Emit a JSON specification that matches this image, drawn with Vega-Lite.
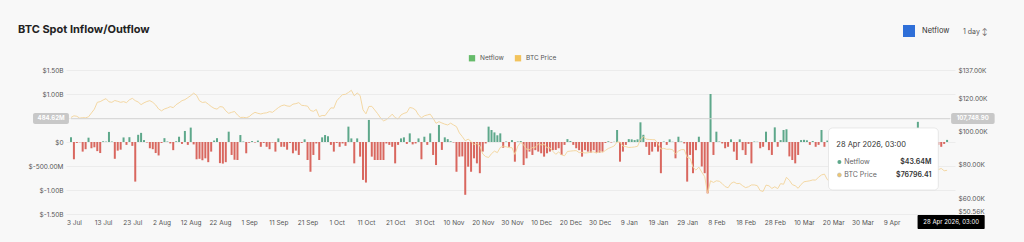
{
 "$schema": "https://vega.github.io/schema/vega-lite/v6.json",
 "width": 889,
 "height": 144,
 "autosize": {"type": "none"},
 "padding": {"left": 66, "top": 70, "right": 69, "bottom": 28},
 "background": "#f8f8f8",
 "config": {
  "view": {"stroke": null},
  "font": "Inter",
  "axis": {"domain": false, "ticks": false, "labelFont": "Inter", "labelFontSize": 6.5, "labelColor": "#555555", "gridColor": "#e8e8e8", "gridWidth": 0.8},
  "legend": {"labelFont": "Inter", "titleFont": "Inter"}
 },
 "title": {"text": "BTC Spot Inflow/Outflow", "anchor": "start", "frame": "group", "dx": -48, "offset": -11, "fontSize": 11, "fontWeight": "bold", "font": "Inter", "color": "#222222"},
 "datasets": {
  "flow": [
   {"date":"2025-07-02","netflow":97,"price":108.5},
   {"date":"2025-07-03","netflow":-360,"price":109.5},
   {"date":"2025-07-04","netflow":-20,"price":109.2},
   {"date":"2025-07-05","netflow":-5,"price":108.1},
   {"date":"2025-07-06","netflow":-200,"price":108.4},
   {"date":"2025-07-07","netflow":-150,"price":108.3},
   {"date":"2025-07-08","netflow":90,"price":108.9},
   {"date":"2025-07-09","netflow":-130,"price":111.2},
   {"date":"2025-07-10","netflow":-110,"price":113.5},
   {"date":"2025-07-11","netflow":-190,"price":117.6},
   {"date":"2025-07-12","netflow":-230,"price":118.0},
   {"date":"2025-07-13","netflow":15,"price":119.0},
   {"date":"2025-07-14","netflow":8,"price":119.8},
   {"date":"2025-07-15","netflow":210,"price":117.9},
   {"date":"2025-07-16","netflow":10,"price":117.6},
   {"date":"2025-07-17","netflow":-350,"price":118.7},
   {"date":"2025-07-18","netflow":-180,"price":118.2},
   {"date":"2025-07-19","netflow":-160,"price":117.6},
   {"date":"2025-07-20","netflow":95,"price":118.0},
   {"date":"2025-07-21","netflow":-60,"price":117.4},
   {"date":"2025-07-22","netflow":100,"price":119.1},
   {"date":"2025-07-23","netflow":-80,"price":120.0},
   {"date":"2025-07-24","netflow":-825,"price":118.6},
   {"date":"2025-07-25","netflow":150,"price":117.8},
   {"date":"2025-07-26","netflow":190,"price":116.2},
   {"date":"2025-07-27","netflow":40,"price":117.3},
   {"date":"2025-07-28","netflow":-10,"price":118.1},
   {"date":"2025-07-29","netflow":-130,"price":118.6},
   {"date":"2025-07-30","netflow":-150,"price":117.6},
   {"date":"2025-07-31","netflow":-230,"price":116.0},
   {"date":"2025-08-01","netflow":-280,"price":113.6},
   {"date":"2025-08-02","netflow":-20,"price":112.5},
   {"date":"2025-08-03","netflow":80,"price":113.6},
   {"date":"2025-08-04","netflow":10,"price":114.2},
   {"date":"2025-08-05","netflow":-30,"price":115.0},
   {"date":"2025-08-06","netflow":-170,"price":114.4},
   {"date":"2025-08-07","netflow":15,"price":116.2},
   {"date":"2025-08-08","netflow":110,"price":117.3},
   {"date":"2025-08-09","netflow":-40,"price":118.6},
   {"date":"2025-08-10","netflow":230,"price":119.2},
   {"date":"2025-08-11","netflow":-60,"price":120.4},
   {"date":"2025-08-12","netflow":300,"price":121.6},
   {"date":"2025-08-13","netflow":-50,"price":123.1},
   {"date":"2025-08-14","netflow":-360,"price":121.8},
   {"date":"2025-08-15","netflow":-350,"price":118.5},
   {"date":"2025-08-16","netflow":-380,"price":117.5},
   {"date":"2025-08-17","netflow":-340,"price":117.8},
   {"date":"2025-08-18","netflow":-420,"price":116.5},
   {"date":"2025-08-19","netflow":-200,"price":115.1},
   {"date":"2025-08-20","netflow":30,"price":114.0},
   {"date":"2025-08-21","netflow":80,"price":113.5},
   {"date":"2025-08-22","netflow":-440,"price":115.0},
   {"date":"2025-08-23","netflow":-450,"price":114.8},
   {"date":"2025-08-24","netflow":-420,"price":112.5},
   {"date":"2025-08-25","netflow":215,"price":111.0},
   {"date":"2025-08-26","netflow":-270,"price":111.6},
   {"date":"2025-08-27","netflow":-370,"price":112.1},
   {"date":"2025-08-28","netflow":-375,"price":110.0},
   {"date":"2025-08-29","netflow":145,"price":108.5},
   {"date":"2025-08-30","netflow":10,"price":108.6},
   {"date":"2025-08-31","netflow":-235,"price":108.3},
   {"date":"2025-09-01","netflow":-15,"price":109.0},
   {"date":"2025-09-02","netflow":20,"price":110.5},
   {"date":"2025-09-03","netflow":-10,"price":111.6},
   {"date":"2025-09-04","netflow":30,"price":111.0},
   {"date":"2025-09-05","netflow":-100,"price":110.6},
   {"date":"2025-09-06","netflow":-20,"price":111.1},
   {"date":"2025-09-07","netflow":-100,"price":111.3},
   {"date":"2025-09-08","netflow":-150,"price":112.0},
   {"date":"2025-09-09","netflow":-10,"price":111.6},
   {"date":"2025-09-10","netflow":-200,"price":113.0},
   {"date":"2025-09-11","netflow":75,"price":114.4},
   {"date":"2025-09-12","netflow":-100,"price":115.5},
   {"date":"2025-09-13","netflow":-100,"price":116.0},
   {"date":"2025-09-14","netflow":-160,"price":115.4},
   {"date":"2025-09-15","netflow":-20,"price":115.2},
   {"date":"2025-09-16","netflow":-235,"price":116.5},
   {"date":"2025-09-17","netflow":-180,"price":116.8},
   {"date":"2025-09-18","netflow":-270,"price":117.4},
   {"date":"2025-09-19","netflow":-20,"price":115.8},
   {"date":"2025-09-20","netflow":55,"price":115.6},
   {"date":"2025-09-21","netflow":-375,"price":115.3},
   {"date":"2025-09-22","netflow":-620,"price":112.7},
   {"date":"2025-09-23","netflow":-270,"price":112.2},
   {"date":"2025-09-24","netflow":-30,"price":113.3},
   {"date":"2025-09-25","netflow":-375,"price":109.0},
   {"date":"2025-09-26","netflow":97,"price":109.7},
   {"date":"2025-09-27","netflow":145,"price":109.6},
   {"date":"2025-09-28","netflow":120,"price":112.0},
   {"date":"2025-09-29","netflow":-60,"price":114.3},
   {"date":"2025-09-30","netflow":-200,"price":114.1},
   {"date":"2025-10-01","netflow":-20,"price":118.5},
   {"date":"2025-10-02","netflow":-100,"price":120.5},
   {"date":"2025-10-03","netflow":-30,"price":122.2},
   {"date":"2025-10-04","netflow":-80,"price":122.4},
   {"date":"2025-10-05","netflow":320,"price":123.5},
   {"date":"2025-10-06","netflow":75,"price":124.8},
   {"date":"2025-10-07","netflow":-445,"price":121.5},
   {"date":"2025-10-08","netflow":75,"price":123.2},
   {"date":"2025-10-09","netflow":-305,"price":121.7},
   {"date":"2025-10-10","netflow":-790,"price":113.1},
   {"date":"2025-10-11","netflow":-845,"price":110.7},
   {"date":"2025-10-12","netflow":460,"price":115.1},
   {"date":"2025-10-13","netflow":-305,"price":115.2},
   {"date":"2025-10-14","netflow":-375,"price":113.0},
   {"date":"2025-10-15","netflow":-375,"price":110.8},
   {"date":"2025-10-16","netflow":-375,"price":108.2},
   {"date":"2025-10-17","netflow":-375,"price":106.5},
   {"date":"2025-10-18","netflow":-30,"price":107.2},
   {"date":"2025-10-19","netflow":-60,"price":108.7},
   {"date":"2025-10-20","netflow":-100,"price":110.5},
   {"date":"2025-10-21","netflow":-445,"price":108.4},
   {"date":"2025-10-22","netflow":-60,"price":107.6},
   {"date":"2025-10-23","netflow":75,"price":110.0},
   {"date":"2025-10-24","netflow":97,"price":111.0},
   {"date":"2025-10-25","netflow":-40,"price":111.5},
   {"date":"2025-10-26","netflow":180,"price":114.5},
   {"date":"2025-10-27","netflow":-50,"price":114.1},
   {"date":"2025-10-28","netflow":-30,"price":113.0},
   {"date":"2025-10-29","netflow":75,"price":110.0},
   {"date":"2025-10-30","netflow":-360,"price":108.3},
   {"date":"2025-10-31","netflow":110,"price":109.5},
   {"date":"2025-11-01","netflow":-60,"price":110.0},
   {"date":"2025-11-02","netflow":180,"price":110.5},
   {"date":"2025-11-03","netflow":-270,"price":108.0},
   {"date":"2025-11-04","netflow":-480,"price":105.0},
   {"date":"2025-11-05","netflow":355,"price":106.0},
   {"date":"2025-11-06","netflow":-165,"price":105.2},
   {"date":"2025-11-07","netflow":97,"price":104.5},
   {"date":"2025-11-08","netflow":60,"price":104.0},
   {"date":"2025-11-09","netflow":15,"price":105.1},
   {"date":"2025-11-10","netflow":-10,"price":104.0},
   {"date":"2025-11-11","netflow":-620,"price":103.0},
   {"date":"2025-11-12","netflow":-305,"price":99.2},
   {"date":"2025-11-13","netflow":-300,"price":97.0},
   {"date":"2025-11-14","netflow":-1100,"price":94.5},
   {"date":"2025-11-15","netflow":-515,"price":95.5},
   {"date":"2025-11-16","netflow":-620,"price":94.1},
   {"date":"2025-11-17","netflow":-340,"price":92.2},
   {"date":"2025-11-18","netflow":-445,"price":92.9},
   {"date":"2025-11-19","netflow":-650,"price":91.5},
   {"date":"2025-11-20","netflow":-200,"price":86.6},
   {"date":"2025-11-21","netflow":-30,"price":85.0},
   {"date":"2025-11-22","netflow":320,"price":84.5},
   {"date":"2025-11-23","netflow":250,"price":86.8},
   {"date":"2025-11-24","netflow":200,"price":88.3},
   {"date":"2025-11-25","netflow":140,"price":87.4},
   {"date":"2025-11-26","netflow":180,"price":90.5},
   {"date":"2025-11-27","netflow":-120,"price":91.3},
   {"date":"2025-11-28","netflow":10,"price":90.9},
   {"date":"2025-11-29","netflow":-100,"price":90.4},
   {"date":"2025-11-30","netflow":40,"price":90.4},
   {"date":"2025-12-01","netflow":-410,"price":86.3},
   {"date":"2025-12-02","netflow":10,"price":91.3},
   {"date":"2025-12-03","netflow":20,"price":93.5},
   {"date":"2025-12-04","netflow":-480,"price":92.1},
   {"date":"2025-12-05","netflow":-340,"price":89.4},
   {"date":"2025-12-06","netflow":-200,"price":89.3},
   {"date":"2025-12-07","netflow":-270,"price":90.4},
   {"date":"2025-12-08","netflow":-170,"price":90.6},
   {"date":"2025-12-09","netflow":-200,"price":92.7},
   {"date":"2025-12-10","netflow":-235,"price":92.0},
   {"date":"2025-12-11","netflow":-305,"price":92.5},
   {"date":"2025-12-12","netflow":-235,"price":90.3},
   {"date":"2025-12-13","netflow":-200,"price":90.3},
   {"date":"2025-12-14","netflow":-170,"price":88.2},
   {"date":"2025-12-15","netflow":-165,"price":86.4},
   {"date":"2025-12-16","netflow":-130,"price":87.8},
   {"date":"2025-12-17","netflow":-270,"price":86.1},
   {"date":"2025-12-18","netflow":-60,"price":85.5},
   {"date":"2025-12-19","netflow":60,"price":88.1},
   {"date":"2025-12-20","netflow":20,"price":88.3},
   {"date":"2025-12-21","netflow":-60,"price":88.5},
   {"date":"2025-12-22","netflow":-130,"price":88.6},
   {"date":"2025-12-23","netflow":-170,"price":87.4},
   {"date":"2025-12-24","netflow":-305,"price":87.6},
   {"date":"2025-12-25","netflow":-170,"price":87.2},
   {"date":"2025-12-26","netflow":-200,"price":87.3},
   {"date":"2025-12-27","netflow":-220,"price":87.8},
   {"date":"2025-12-28","netflow":-170,"price":87.8},
   {"date":"2025-12-29","netflow":-220,"price":87.1},
   {"date":"2025-12-30","netflow":-220,"price":88.4},
   {"date":"2025-12-31","netflow":-200,"price":87.5},
   {"date":"2026-01-01","netflow":-20,"price":88.7},
   {"date":"2026-01-02","netflow":15,"price":89.9},
   {"date":"2026-01-03","netflow":-10,"price":90.6},
   {"date":"2026-01-04","netflow":5,"price":91.4},
   {"date":"2026-01-05","netflow":250,"price":93.8},
   {"date":"2026-01-06","netflow":-410,"price":93.7},
   {"date":"2026-01-07","netflow":-200,"price":91.3},
   {"date":"2026-01-08","netflow":-60,"price":91.0},
   {"date":"2026-01-09","netflow":60,"price":90.5},
   {"date":"2026-01-10","netflow":55,"price":90.6},
   {"date":"2026-01-11","netflow":40,"price":90.8},
   {"date":"2026-01-12","netflow":55,"price":91.2},
   {"date":"2026-01-13","netflow":410,"price":95.3},
   {"date":"2026-01-14","netflow":150,"price":97.0},
   {"date":"2026-01-15","netflow":-100,"price":95.5},
   {"date":"2026-01-16","netflow":-270,"price":95.3},
   {"date":"2026-01-17","netflow":-200,"price":95.2},
   {"date":"2026-01-18","netflow":-100,"price":95.1},
   {"date":"2026-01-19","netflow":-200,"price":92.8},
   {"date":"2026-01-20","netflow":-650,"price":89.5},
   {"date":"2026-01-21","netflow":10,"price":90.0},
   {"date":"2026-01-22","netflow":-60,"price":89.4},
   {"date":"2026-01-23","netflow":55,"price":89.5},
   {"date":"2026-01-24","netflow":5,"price":89.2},
   {"date":"2026-01-25","netflow":-340,"price":86.6},
   {"date":"2026-01-26","netflow":110,"price":88.3},
   {"date":"2026-01-27","netflow":10,"price":89.2},
   {"date":"2026-01-28","netflow":-30,"price":89.2},
   {"date":"2026-01-29","netflow":-825,"price":84.5},
   {"date":"2026-01-30","netflow":-270,"price":84.0},
   {"date":"2026-01-31","netflow":-650,"price":78.6},
   {"date":"2026-02-01","netflow":-170,"price":76.9},
   {"date":"2026-02-02","netflow":110,"price":78.7},
   {"date":"2026-02-03","netflow":-510,"price":75.7},
   {"date":"2026-02-04","netflow":-650,"price":73.0},
   {"date":"2026-02-05","netflow":-1070,"price":63.0},
   {"date":"2026-02-06","netflow":1000,"price":70.5},
   {"date":"2026-02-07","netflow":-270,"price":69.5},
   {"date":"2026-02-08","netflow":215,"price":70.5},
   {"date":"2026-02-09","netflow":10,"price":70.2},
   {"date":"2026-02-10","netflow":-30,"price":68.8},
   {"date":"2026-02-11","netflow":-130,"price":67.0},
   {"date":"2026-02-12","netflow":-100,"price":66.3},
   {"date":"2026-02-13","netflow":55,"price":68.9},
   {"date":"2026-02-14","netflow":-200,"price":69.8},
   {"date":"2026-02-15","netflow":-375,"price":68.8},
   {"date":"2026-02-16","netflow":55,"price":68.9},
   {"date":"2026-02-17","netflow":-170,"price":67.5},
   {"date":"2026-02-18","netflow":-270,"price":66.4},
   {"date":"2026-02-19","netflow":-40,"price":66.9},
   {"date":"2026-02-20","netflow":-445,"price":68.0},
   {"date":"2026-02-21","netflow":10,"price":68.0},
   {"date":"2026-02-22","netflow":5,"price":67.6},
   {"date":"2026-02-23","netflow":-130,"price":64.6},
   {"date":"2026-02-24","netflow":-100,"price":64.1},
   {"date":"2026-02-25","netflow":215,"price":67.9},
   {"date":"2026-02-26","netflow":-170,"price":67.5},
   {"date":"2026-02-27","netflow":-270,"price":65.9},
   {"date":"2026-02-28","netflow":305,"price":66.9},
   {"date":"2026-03-01","netflow":-100,"price":65.8},
   {"date":"2026-03-02","netflow":40,"price":68.8},
   {"date":"2026-03-03","netflow":250,"price":68.4},
   {"date":"2026-03-04","netflow":265,"price":72.6},
   {"date":"2026-03-05","netflow":-300,"price":70.8},
   {"date":"2026-03-06","netflow":-375,"price":68.2},
   {"date":"2026-03-07","netflow":-445,"price":67.5},
   {"date":"2026-03-08","netflow":-270,"price":66.0},
   {"date":"2026-03-09","netflow":40,"price":68.3},
   {"date":"2026-03-10","netflow":45,"price":69.9},
   {"date":"2026-03-11","netflow":35,"price":70.2},
   {"date":"2026-03-12","netflow":-60,"price":70.5},
   {"date":"2026-03-13","netflow":20,"price":71.0},
   {"date":"2026-03-14","netflow":-100,"price":70.9},
   {"date":"2026-03-15","netflow":-60,"price":72.7},
   {"date":"2026-03-16","netflow":250,"price":74.0},
   {"date":"2026-03-17","netflow":-100,"price":74.5},
   {"date":"2026-03-18","netflow":30,"price":71.2},
   {"date":"2026-03-19","netflow":-80,"price":70.0},
   {"date":"2026-03-20","netflow":-150,"price":70.5},
   {"date":"2026-03-21","netflow":40,"price":68.7},
   {"date":"2026-03-22","netflow":-60,"price":68.2},
   {"date":"2026-03-23","netflow":90,"price":70.9},
   {"date":"2026-03-24","netflow":-120,"price":71.0},
   {"date":"2026-03-25","netflow":-40,"price":69.5},
   {"date":"2026-03-26","netflow":20,"price":68.8},
   {"date":"2026-03-27","netflow":-200,"price":66.5},
   {"date":"2026-03-28","netflow":60,"price":66.8},
   {"date":"2026-03-29","netflow":-90,"price":66.5},
   {"date":"2026-03-30","netflow":30,"price":68.2},
   {"date":"2026-03-31","netflow":-150,"price":68.3},
   {"date":"2026-04-01","netflow":80,"price":68.5},
   {"date":"2026-04-02","netflow":-60,"price":66.9},
   {"date":"2026-04-03","netflow":-30,"price":67.2},
   {"date":"2026-04-04","netflow":120,"price":67.5},
   {"date":"2026-04-05","netflow":-100,"price":69.0},
   {"date":"2026-04-06","netflow":50,"price":68.8},
   {"date":"2026-04-07","netflow":-70,"price":71.9},
   {"date":"2026-04-08","netflow":40,"price":71.5},
   {"date":"2026-04-09","netflow":-130,"price":72.5},
   {"date":"2026-04-10","netflow":20,"price":73.2},
   {"date":"2026-04-11","netflow":90,"price":71.0},
   {"date":"2026-04-12","netflow":-50,"price":71.4},
   {"date":"2026-04-13","netflow":-180,"price":73.5},
   {"date":"2026-04-14","netflow":30,"price":74.5},
   {"date":"2026-04-15","netflow":-60,"price":75.1},
   {"date":"2026-04-16","netflow":70,"price":74.8},
   {"date":"2026-04-17","netflow":-50,"price":75.5},
   {"date":"2026-04-18","netflow":420,"price":77.5},
   {"date":"2026-04-19","netflow":30,"price":75.8},
   {"date":"2026-04-20","netflow":-40,"price":76.4},
   {"date":"2026-04-21","netflow":60,"price":78.0},
   {"date":"2026-04-22","netflow":-20,"price":77.6},
   {"date":"2026-04-23","netflow":40,"price":77.5},
   {"date":"2026-04-24","netflow":-30,"price":77.8},
   {"date":"2026-04-25","netflow":-60,"price":77.2},
   {"date":"2026-04-26","netflow":-100,"price":77.9},
   {"date":"2026-04-27","netflow":-40,"price":76.5},
   {"date":"2026-04-28","netflow":43.64,"price":76.79641}
  ]
 },
 "encoding": {
  "x": {
   "field": "date", "type": "temporal", "title": null,
   "scale": {"type": "utc", "domain": [{"year": 2025, "month": 7, "date": 2, "utc": true}, {"year": 2026, "month": 4, "date": 29, "utc": true}]},
   "axis": {
    "format": "%-d %b", "labelPadding": 5, "grid": false, "labelOverlap": false, "labelFlush": false,
    "values": [
     {"year": 2025, "month": 7, "date": 3, "utc": true},
     {"year": 2025, "month": 7, "date": 13, "utc": true},
     {"year": 2025, "month": 7, "date": 23, "utc": true},
     {"year": 2025, "month": 8, "date": 2, "utc": true},
     {"year": 2025, "month": 8, "date": 12, "utc": true},
     {"year": 2025, "month": 8, "date": 22, "utc": true},
     {"year": 2025, "month": 9, "date": 1, "utc": true},
     {"year": 2025, "month": 9, "date": 11, "utc": true},
     {"year": 2025, "month": 9, "date": 21, "utc": true},
     {"year": 2025, "month": 10, "date": 1, "utc": true},
     {"year": 2025, "month": 10, "date": 11, "utc": true},
     {"year": 2025, "month": 10, "date": 21, "utc": true},
     {"year": 2025, "month": 10, "date": 31, "utc": true},
     {"year": 2025, "month": 11, "date": 10, "utc": true},
     {"year": 2025, "month": 11, "date": 20, "utc": true},
     {"year": 2025, "month": 11, "date": 30, "utc": true},
     {"year": 2025, "month": 12, "date": 10, "utc": true},
     {"year": 2025, "month": 12, "date": 20, "utc": true},
     {"year": 2025, "month": 12, "date": 30, "utc": true},
     {"year": 2026, "month": 1, "date": 9, "utc": true},
     {"year": 2026, "month": 1, "date": 19, "utc": true},
     {"year": 2026, "month": 1, "date": 29, "utc": true},
     {"year": 2026, "month": 2, "date": 8, "utc": true},
     {"year": 2026, "month": 2, "date": 18, "utc": true},
     {"year": 2026, "month": 2, "date": 28, "utc": true},
     {"year": 2026, "month": 3, "date": 10, "utc": true},
     {"year": 2026, "month": 3, "date": 20, "utc": true},
     {"year": 2026, "month": 3, "date": 30, "utc": true},
     {"year": 2026, "month": 4, "date": 9, "utc": true}
    ]
   }
  }
 },
 "layer": [
  {
   "data": {"name": "flow"},
   "mark": {"type": "bar", "width": 2},
   "encoding": {
    "y": {
     "field": "netflow", "type": "quantitative", "title": null,
     "scale": {"domain": [-1500, 1500], "nice": false},
     "axis": {
      "values": [-1500, -1000, -500, 0, 500, 1000, 1500], "grid": true, "labelPadding": 3, "labelOverlap": false,
      "labelExpr": "datum.value == 500 ? '' : datum.value == 0 ? '$0' : (abs(datum.value) >= 1000 ? '$' + replace(format(datum.value / 1000, '.2f'), '−', '-') + 'B' : '$' + replace(format(datum.value, '.2f'), '−', '-') + 'M')"
     }
    },
    "color": {"condition": {"test": "datum.netflow < 0", "value": "#d9675f"}, "value": "#5ea88b"}
   }
  },
  {
   "data": {"name": "flow"},
   "mark": {"type": "line", "color": "#f3d49a", "strokeWidth": 1, "opacity": 0.9},
   "encoding": {
    "y": {
     "field": "price", "type": "quantitative", "title": null,
     "scale": {"domain": [50.56, 137], "nice": false, "zero": false},
     "axis": {
      "orient": "right", "values": [50.56, 60, 80, 100, 120, 137], "grid": false, "labelPadding": 3, "labelOverlap": false,
      "labelBaseline": {"condition": {"test": "datum.value < 51", "value": "bottom"}, "value": "middle"},
      "labelExpr": "'$' + format(datum.value, '.2f') + 'K'"
     }
    }
   }
  },
  {
   "encoding": {"y": {"field": "v", "type": "quantitative", "title": null, "scale": {"domain": [-1500, 1500], "nice": false}, "axis": null}},
   "layer": [
    {
     "data": {"values": [{"date": "2025-07-02T00:00:00Z", "date2": "2026-04-29T00:00:00Z", "v": 485}]},
     "mark": {"type": "rule", "color": "#d4d4d4", "strokeWidth": 1},
     "encoding": {"x2": {"field": "date2"}}
    },
    {
     "data": {"values": [
      {"date": "2025-06-19T00:00:00Z", "date2": "2025-07-01T07:00:00Z", "v": 604, "v2": 375},
      {"date": "2026-04-29T09:00:00Z", "date2": "2026-05-14T07:00:00Z", "v": 604, "v2": 375}
     ]},
     "mark": {"type": "rect", "color": "#c8c8c8", "cornerRadius": 2},
     "encoding": {"x2": {"field": "date2"}, "y2": {"field": "v2"}}
    },
    {
     "data": {"values": [
      {"date": "2025-06-25T04:00:00Z", "v": 490, "t": "484.62M"},
      {"date": "2026-05-06T19:00:00Z", "v": 490, "t": "107,748.90"}
     ]},
     "mark": {"type": "text", "color": "#ffffff", "fontSize": 6, "fontWeight": "bold"},
     "encoding": {"text": {"field": "t"}}
    },
    {
     "data": {"values": [{"date": "2026-04-17T21:30:00Z", "date2": "2026-05-10T21:00:00Z", "v": -1521, "v2": -1812}]},
     "mark": {"type": "rect", "color": "#000000", "cornerRadius": 1},
     "encoding": {"x2": {"field": "date2"}, "y2": {"field": "v2"}}
    },
    {
     "data": {"values": [{"date": "2026-04-29T09:30:00Z", "v": -1667, "t": "28 Apr 2026, 03:00"}]},
     "mark": {"type": "text", "color": "#ffffff", "fontSize": 6},
     "encoding": {"text": {"field": "t"}}
    },
    {
     "data": {"values": [{"date": "2026-03-18T09:36:00Z", "date2": "2026-04-25T00:00:00Z", "v": 292, "v2": -1000}]},
     "mark": {"type": "rect", "fill": "#ffffff", "stroke": "#e2e2e2", "strokeWidth": 0.8, "cornerRadius": 4},
     "encoding": {"x2": {"field": "date2"}, "y2": {"field": "v2"}}
    },
    {
     "data": {"values": [{"date": "2026-03-21T02:00:00Z", "v": -62, "t": "28 Apr 2026, 03:00"}]},
     "mark": {"type": "text", "align": "left", "color": "#333333", "fontSize": 7.5},
     "encoding": {"text": {"field": "t"}}
    },
    {
     "data": {"values": [
      {"date": "2026-03-23T19:00:00Z", "v": -417, "t": "Netflow"},
      {"date": "2026-03-23T19:00:00Z", "v": -687, "t": "BTC Price"}
     ]},
     "mark": {"type": "text", "align": "left", "color": "#666666", "fontSize": 7},
     "encoding": {"text": {"field": "t"}}
    },
    {
     "data": {"values": [
      {"date": "2026-04-22T15:00:00Z", "v": -417, "t": "$43.64M"},
      {"date": "2026-04-22T15:00:00Z", "v": -687, "t": "$76796.41"}
     ]},
     "mark": {"type": "text", "align": "right", "color": "#333333", "fontSize": 7, "fontWeight": 600},
     "encoding": {"text": {"field": "t"}}
    },
    {
     "data": {"values": [{"date": "2026-03-22T03:00:00Z", "v": -417}]},
     "mark": {"type": "point", "filled": true, "color": "#5ea88b", "size": 16, "opacity": 1}
    },
    {
     "data": {"values": [{"date": "2026-03-22T03:00:00Z", "v": -687}]},
     "mark": {"type": "point", "filled": true, "fill": "#efc66c", "stroke": "#b9b9b9", "strokeWidth": 0.6, "size": 16, "opacity": 1}
    }
   ]
  },
  {
   "data": {"values": [{"s": "Netflow"}, {"s": "BTC Price"}]},
   "transform": [{"filter": "false"}],
   "mark": {"type": "point", "filled": true, "shape": "square"},
   "encoding": {
    "color": {
     "field": "s", "type": "nominal",
     "scale": {"domain": ["Netflow", "BTC Price"], "range": ["#66bb6a", "#f2c35c"]},
     "legend": {"orient": "none", "legendX": 402, "legendY": -16, "direction": "horizontal", "title": null, "symbolType": "square", "symbolSize": 40, "symbolOpacity": 1, "labelFontSize": 6.5, "labelColor": "#555555", "columnPadding": 10, "labelOffset": 4}
    }
   }
  },
  {
   "data": {"values": [{"w": "Netflow"}]},
   "transform": [{"filter": "false"}],
   "mark": {"type": "point", "filled": true, "color": "#2f6fd8"},
   "encoding": {
    "shape": {
     "field": "w", "type": "nominal",
     "scale": {"domain": ["Netflow"], "range": ["square"]},
     "legend": {"orient": "none", "legendX": 836, "legendY": -46, "title": "1 day ↕", "titleOrient": "right", "titleFontSize": 7, "titleFontWeight": "normal", "titleColor": "#555555", "titlePadding": 14, "symbolFillColor": "#2f6fd8", "symbolStrokeColor": "#2f6fd8", "symbolOpacity": 1, "symbolSize": 144, "labelFontSize": 7.5, "labelColor": "#333333", "labelOffset": 6}
    }
   }
  }
 ],
 "resolve": {"scale": {"y": "independent"}}
}
